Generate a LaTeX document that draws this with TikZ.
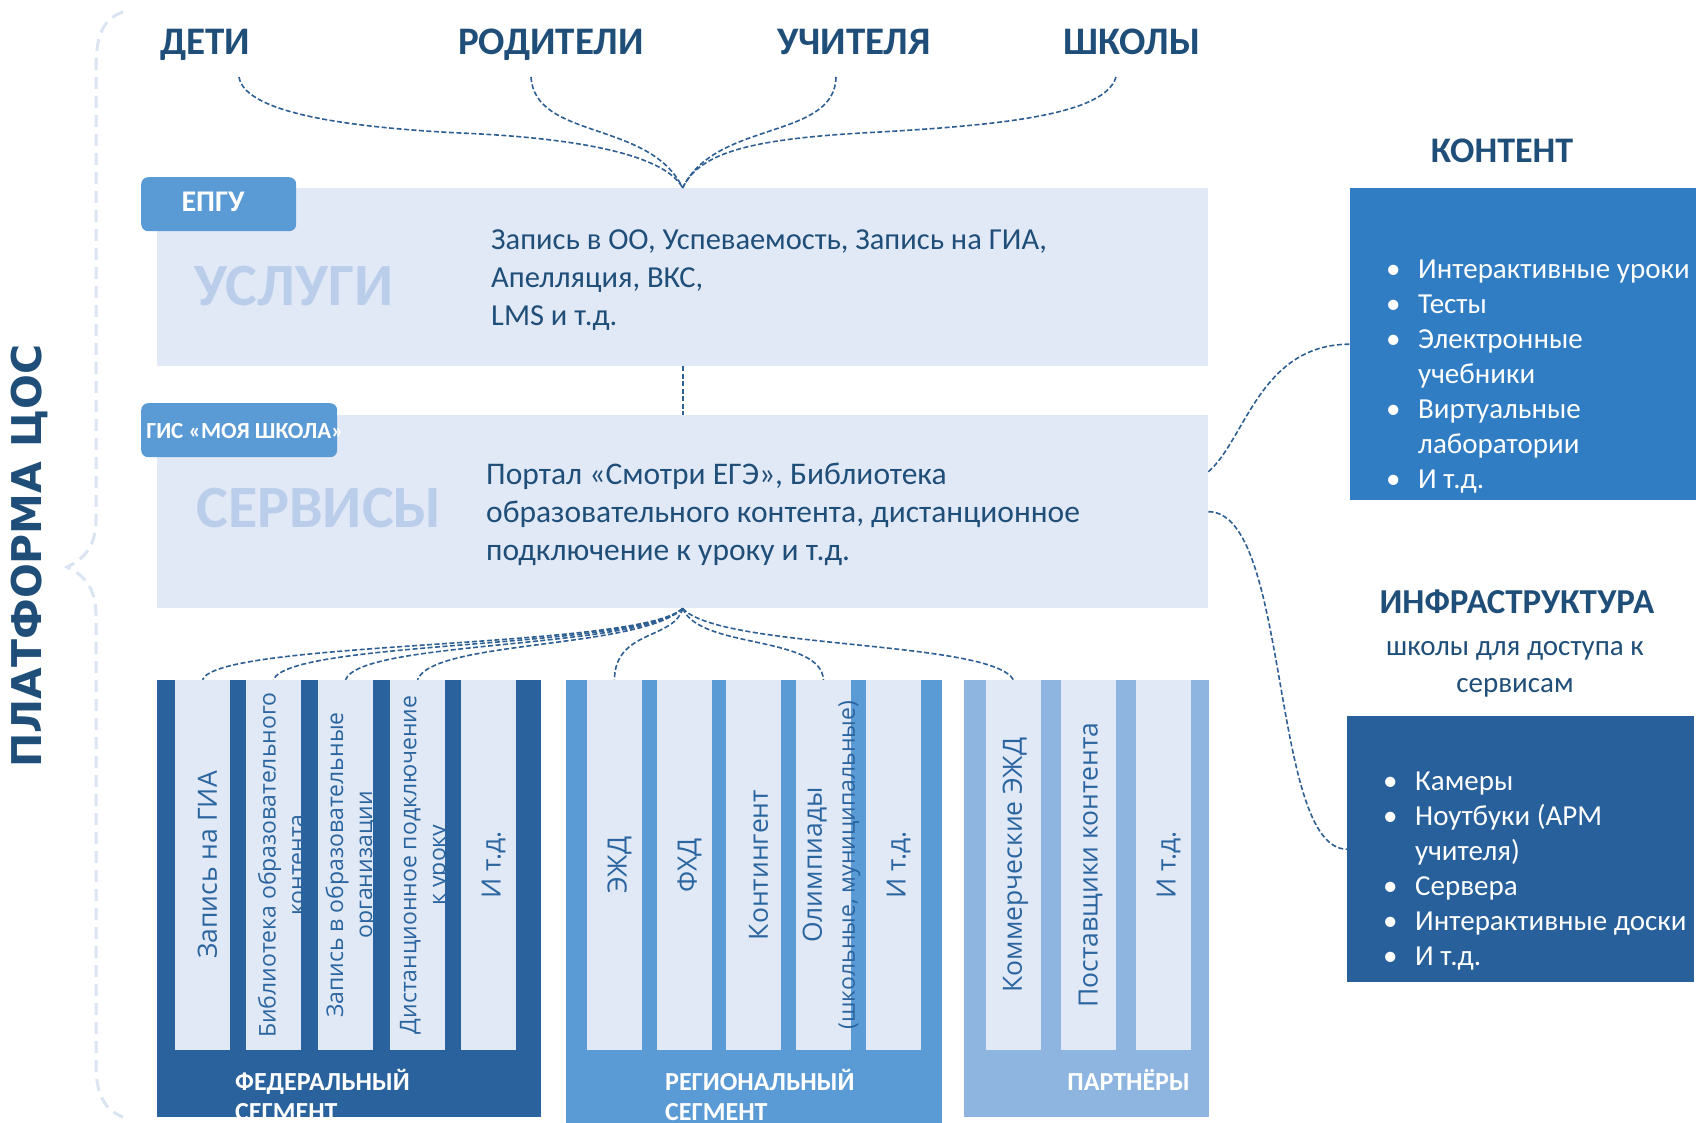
\documentclass[tikz,border=0pt]{standalone}
\usepackage{fontspec}
\setmainfont{Carlito}
\newfontfamily\platfont{DejaVu Sans}
\newfontfamily\colfont{Open Sans}
\usetikzlibrary{positioning}

\definecolor{navy}{HTML}{1F4E79}
\definecolor{linkc}{HTML}{2D5F93}
\definecolor{pale}{HTML}{E1E9F6}
\definecolor{wordc}{HTML}{BACDEA}
\definecolor{tabc}{HTML}{5B9BD5}
\definecolor{contentc}{HTML}{307DC3}
\definecolor{infrac}{HTML}{27609A}
\definecolor{fedc}{HTML}{29629C}
\definecolor{regc}{HTML}{5B9BD5}
\definecolor{partc}{HTML}{8DB5E0}
\definecolor{coltc}{HTML}{2B65A0}
\definecolor{bracec}{HTML}{DAE4F2}

\newcommand{\bul}{\makebox[32pt][l]{•}}
\newcommand{\cont}{\hspace*{32pt}}

\tikzset{
  who/.style={font=\bfseries\fontsize{39}{41}\selectfont, text=navy, anchor=base, inner sep=0pt},
  panel/.style={fill=pale, inner sep=0pt, anchor=north west},
  tab/.style={fill=tabc, rounded corners=7pt, inner sep=0pt, anchor=north west},
  tablabel/.style={text=white, anchor=base, inner sep=0pt},
  bigword/.style={font=\bfseries\fontsize{60}{62}\selectfont, text=wordc, anchor=base, inner sep=0pt},
  body/.style={font=\fontsize{30.5}{38}\selectfont, text=navy, align=left, inner sep=0pt, anchor=base west},
  link/.style={draw=linkc, line width=1.6pt, dash pattern=on 5pt off 2.5pt},
  brace/.style={draw=bracec, line width=3pt, dash pattern=on 12pt off 7pt},
  segment/.style={inner sep=0pt, anchor=north west},
  column/.style={fill=pale, minimum width=55pt, minimum height=370pt, inner sep=0pt},
  coltext/.style={rotate=90, text=coltc, font=\colfont\fontsize{26.5}{29}\selectfont, align=center, inner sep=0pt},
  coltwo/.style={coltext, font=\colfont\fontsize{23}{29}\selectfont},
  seglabel/.style={font=\bfseries\fontsize{26}{30}\selectfont, text=white, align=left, anchor=base west, inner sep=0pt},
  bullets/.style={font=\fontsize{29}{35}\selectfont, text=white, align=left, anchor=base west, inner sep=0pt},
}

\begin{document}
\begin{tikzpicture}[x=1pt,y=-1pt]
\useasboundingbox (0,0) rectangle (1696,1123);

% platform brace
\draw[brace] (123,12) .. controls (100,20) and (96,40) .. (96,70) -- (96,520)
  .. controls (96,548) and (82,560) .. (67,567) .. controls (82,574) and (96,586) .. (96,615)
  -- (96,1065) .. controls (96,1095) and (105,1110) .. (123,1117);
\node[rotate=90, font=\platfont\bfseries\fontsize{41}{43}\selectfont, text=navy, inner sep=0pt] (platforma) at (29,556) {ПЛАТФОРМА ЦОС};

% users
\node[who] (deti) at (205,55) {ДЕТИ};
\node[who] (roditeli) at (551,55) {РОДИТЕЛИ};
\node[who] (uchitelya) at (854,55) {УЧИТЕЛЯ};
\node[who] (shkoly) at (1132,55) {ШКОЛЫ};
\coordinate (detiend) at (239,77);
\coordinate (roditeliend) at (531,77);
\coordinate (uchitelyaend) at (836,77);
\coordinate (shkolyend) at (1116,77);

% services layers (multi-line texts are placed by their last baseline)
\node[panel, minimum width=1051pt, minimum height=178pt] (uslugi) at (157,188) {};
\node[panel, minimum width=1051pt, minimum height=193pt] (servisy) at (157,415) {};
\node[tab, minimum width=155pt, minimum height=54pt] (epgu) at (141,177) {};
\node[tab, minimum width=196pt, minimum height=54pt] (gis) at (141,403) {};
\node[tablabel, font=\bfseries\fontsize{30}{32}\selectfont] (epgulabel) at (213,212) {ЕПГУ};
\node[tablabel, font=\bfseries\fontsize{23}{25}\selectfont] (gislabel) at (245,438) {ГИС «МОЯ ШКОЛА»};
\node[bigword] (uslugiword) at (294,305) {УСЛУГИ};
\node[bigword] (servisyword) at (319,527) {СЕРВИСЫ};
\node[body] (uslugitext) at (491,325) {Запись в ОО, Успеваемость, Запись на ГИА,\\Апелляция, ВКС,\\LMS и т.д.};
\node[body, font=\fontsize{31.5}{38}\selectfont] (servisytext) at (486,560) {Портал «Смотри ЕГЭ», Библиотека\\образовательного контента,  дистанционное\\подключение к уроку и т.д.};

% content and infrastructure
\node[who, font=\bfseries\fontsize{36}{38}\selectfont] (kontent) at (1502,163) {КОНТЕНТ};
\node[segment, fill=contentc, minimum width=346pt, minimum height=312pt] (kontentbox) at (1350,188) {};
\node[bullets] (kontentlist) at (1386,488) {\bul Интерактивные уроки\\\bul Тесты\\\bul Электронные\\\cont учебники\\\bul Виртуальные\\\cont лаборатории\\\bul И т.д.};
\node[who, font=\bfseries\fontsize{35}{37}\selectfont] (infra) at (1517,613) {ИНФРАСТРУКТУРА};
\node[font=\fontsize{29}{37}\selectfont, text=navy, align=center, anchor=base, inner sep=0pt] (infrasub) at (1515,692) {школы для доступа к\\сервисам};
\node[segment, fill=infrac, minimum width=347pt, minimum height=266pt] (infrabox) at (1347,716) {};
\node[bullets] (infralist) at (1383,965) {\bul Камеры\\\bul Ноутбуки (АРМ\\\cont учителя)\\\bul Сервера\\\bul Интерактивные доски\\\bul И т.д.};

% segments
\node[segment, fill=fedc, minimum width=384pt, minimum height=437pt] (fed) at (157,680) {};
\node[segment, fill=regc, minimum width=376pt, minimum height=443pt] (reg) at (566,680) {};
\node[segment, fill=partc, minimum width=245pt, minimum height=437pt] (part) at (964,680) {};
\foreach \i/\x in {1/175,2/246,3/318,4/390,5/461}
  \node[column] (f\i) at (\x+27.5,865) {};
\foreach \i/\x in {1/587,2/657,3/726,4/796,5/866}
  \node[column] (r\i) at (\x+27.5,865) {};
\foreach \i/\x in {1/986,2/1061,3/1136}
  \node[column] (p\i) at (\x+27.5,865) {};

\node[coltext] (tf1) at ([xshift=5pt]f1.center) {Запись на ГИА};
\node[coltwo] (tf2) at ([xshift=8pt]f2.center) {Библиотека образовательного\\контента};
\node[coltwo] (tf3) at ([xshift=6pt]f3.center) {Запись в образовательные\\организации};
\node[coltwo] (tf4) at ([xshift=8pt]f4.center) {Дистанционное подключение\\к уроку};
\node[coltext] (tf5) at ([xshift=5pt]f5.center) {И т.д.};
\node[coltext] (tr1) at ([xshift=5pt]r1.center) {ЭЖД};
\node[coltext] (tr2) at ([xshift=5pt]r2.center) {ФХД};
\node[coltext] (tr3) at ([xshift=5pt]r3.center) {Контингент};
\node[coltwo] (tr4) at ([xshift=8pt]r4.center) {{\fontsize{26.5}{33}\selectfont Олимпиады}\\[4pt](школьные, муниципальные)};
\node[coltext] (tr5) at ([xshift=5pt]r5.center) {И т.д.};
\node[coltext] (tp1) at ([xshift=2pt]p1.center) {Коммерческие ЭЖД};
\node[coltext] (tp2) at ([xshift=2pt]p2.center) {Поставщики контента};
\node[coltext] (tp3) at ([xshift=5pt]p3.center) {И т.д.};

\node[seglabel] (fedlabel) at (235,1120) {ФЕДЕРАЛЬНЫЙ\\СЕГМЕНТ};
\node[seglabel] (reglabel) at (665,1120) {РЕГИОНАЛЬНЫЙ\\СЕГМЕНТ};
\node[seglabel, anchor=base east] (partlabel) at (1190,1090) {ПАРТНЁРЫ};

% connectors
\draw[link] (detiend) .. controls (245,115) and (360,128) .. (460,133)
  .. controls (580,138) and (665,155) .. (uslugi.north);
\draw[link] (roditeliend) .. controls (535,140) and (650,120) .. (uslugi.north);
\draw[link] (uchitelyaend) .. controls (835,140) and (715,120) .. (uslugi.north);
\draw[link] (shkolyend) .. controls (1105,115) and (1000,125) .. (880,132)
  .. controls (760,138) and (700,150) .. (uslugi.north);
\draw[link] (uslugi.south) -- (servisy.north);
\draw[link] ([yshift=40pt]servisy.east) .. controls +(37,-32) and +(-90,0) .. (kontentbox.west);
\draw[link] (servisy.east) .. controls +(82,0) and +(-77,0) .. (infrabox.west);
\foreach \c in {f1,f2,f3,f4}
  \draw[link] (servisy.south) .. controls +(-43,41) and +(15,-40) .. (\c.north);
\draw[link] (servisy.south) .. controls +(-8,31) and +(0,-50) .. (r1.north);
\draw[link] (servisy.south) .. controls +(17,41) and +(-3,-45) .. (r4.north);
\draw[link] (servisy.south) .. controls +(37,41) and +(-23,-40) .. (p1.north);
\end{tikzpicture}
\end{document}
